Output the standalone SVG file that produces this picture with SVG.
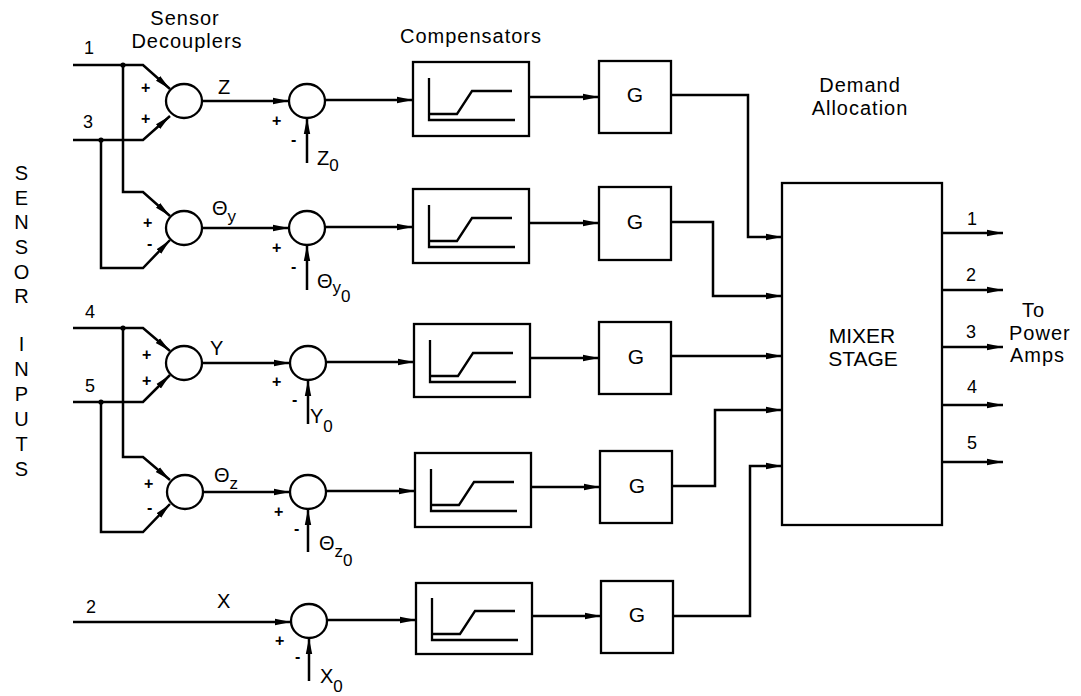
<svg xmlns="http://www.w3.org/2000/svg" width="1081" height="696" viewBox="0 0 1081 696">
<style>
text{font-family:"Liberation Sans",Arial,Helvetica,sans-serif;fill:#000}
.lbl{font-size:20px;letter-spacing:1px}
.big{font-size:21px;text-anchor:middle}
.num{font-size:18px}
.sym{font-size:20px}
.sg{font-size:16px;font-weight:bold}
.w{fill:none;stroke:#000;stroke-width:2.5;stroke-linejoin:miter}
.a{marker-end:url(#ah)}
.c{fill:#fff;stroke:#000;stroke-width:2.3}
.b{fill:#fff;stroke:#000;stroke-width:2.3}
.g{fill:none;stroke:#000;stroke-width:2.3}
</style>
<defs>
<marker id="ah" viewBox="0 0 16 8" refX="16" refY="4" markerWidth="16" markerHeight="8" markerUnits="userSpaceOnUse" orient="auto">
<path d="M0,0.8 L16,4 L0,7.2 z" fill="#000"/>
</marker>
</defs>
<rect width="1081" height="696" fill="#fff"/>

<g id="titles">
<text class="lbl" x="185" y="25" text-anchor="middle">Sensor</text>
<text class="lbl" x="187" y="48" text-anchor="middle">Decouplers</text>
<text class="lbl" x="471" y="43" text-anchor="middle">Compensators</text>
<text class="lbl" x="860" y="92" text-anchor="middle">Demand</text>
<text class="lbl" x="860" y="115" text-anchor="middle">Allocation</text>
<text class="lbl" x="1022" y="317">To</text>
<text class="lbl" x="1009" y="340">Power</text>
<text class="lbl" x="1010" y="362">Amps</text>
<text class="lbl" text-anchor="middle"><tspan x="22" y="180">S</tspan><tspan x="22" y="205">E</tspan><tspan x="22" y="229">N</tspan><tspan x="22" y="254">S</tspan><tspan x="22" y="279">O</tspan><tspan x="22" y="303">R</tspan><tspan x="22" y="351">I</tspan><tspan x="22" y="376">N</tspan><tspan x="22" y="401">P</tspan><tspan x="22" y="426">U</tspan><tspan x="22" y="451">T</tspan><tspan x="22" y="476">S</tspan></text>
</g>

<g id="connectors">
<path class="w a" d="M73,65 H143 L170,89"/>
<path class="w a" d="M73,140 H143 L170,116"/>
<path class="w a" d="M123,65 V192 H143 L170,216"/>
<path class="w a" d="M101,140 V268 H143 L170,240"/>
<path class="w a" d="M73,328 H143 L170,351"/>
<path class="w a" d="M73,402 H143 L170,375"/>
<path class="w a" d="M123,328 V457 H143 L170,480"/>
<path class="w a" d="M101,402 V532 H143 L170,504"/>
<path class="w a" d="M202,101 H289"/>
<path class="w a" d="M202,228 H289"/>
<path class="w a" d="M202,363 H290"/>
<path class="w a" d="M203,492 H290"/>
<path class="w a" d="M73,622 H291"/>
<path class="w a" d="M307,163 V118"/>
<path class="w a" d="M307,290 V245"/>
<path class="w a" d="M308,424 V380"/>
<path class="w a" d="M308,552 V509"/>
<path class="w a" d="M309,681 V638"/>
<path class="w a" d="M325,100 H413"/>
<path class="w a" d="M325,227 H413"/>
<path class="w a" d="M326,362 H414"/>
<path class="w a" d="M326,491 H415"/>
<path class="w a" d="M327,620 H416"/>
<path class="w a" d="M529,97 H599"/>
<path class="w a" d="M529,223 H599"/>
<path class="w a" d="M530,358 H599"/>
<path class="w a" d="M531,487 H600"/>
<path class="w a" d="M532,616 H601"/>
<path class="w a" d="M671,95 H748 V237 H782"/>
<path class="w a" d="M671,222 H713 V296 H782"/>
<path class="w a" d="M671,356 H782"/>
<path class="w a" d="M672,486 H715 V410 H782"/>
<path class="w a" d="M673,616 H750 V466 H782"/>
<path class="w a" d="M942,233 H1003"/>
<path class="w a" d="M942,290 H1003"/>
<path class="w a" d="M942,347 H1003"/>
<path class="w a" d="M942,405 H1003"/>
<path class="w a" d="M942,462 H1003"/>
<circle cx="123" cy="65" r="2.6" fill="#000"/>
<circle cx="101" cy="140" r="2.6" fill="#000"/>
<circle cx="123" cy="328" r="2.6" fill="#000"/>
<circle cx="101" cy="402" r="2.6" fill="#000"/>
</g>

<g id="input-labels">
<text class="num" x="84" y="54">1</text>
<text class="num" x="83" y="128">3</text>
<text class="num" x="85" y="318">4</text>
<text class="num" x="85" y="392">5</text>
<text class="num" x="86" y="613">2</text>
</g>

<g id="decoupler-z">
<ellipse class="c" cx="184" cy="101" rx="18" ry="17"/>
<text class="sg" x="141" y="93">+</text>
<text class="sg" x="141" y="124">+</text>
<text class="sym" x="218" y="94">Z</text>
</g>
<g id="decoupler-thy">
<ellipse class="c" cx="184" cy="228" rx="18" ry="17"/>
<text class="sg" x="143" y="228">+</text>
<text class="sg" x="147" y="249">-</text>
<text class="sym" x="212" y="215">Θ<tspan font-size="17" dy="7">y</tspan></text>
</g>
<g id="decoupler-y">
<ellipse class="c" cx="184" cy="363" rx="18" ry="17"/>
<text class="sg" x="142" y="360">+</text>
<text class="sg" x="142" y="386">+</text>
<text class="sym" x="210" y="355">Y</text>
</g>
<g id="decoupler-thz">
<ellipse class="c" cx="185" cy="492" rx="18" ry="17"/>
<text class="sg" x="144" y="489">+</text>
<text class="sg" x="147" y="513">-</text>
<text class="sym" x="214" y="482">Θ<tspan font-size="17" dy="7">z</tspan></text>
</g>
<g id="label-x">
<text class="sym" x="217" y="608">X</text>
</g>

<g id="sum-z">
<ellipse class="c" cx="307" cy="101" rx="18" ry="17"/>
<text class="sg" x="272" y="126">+</text>
<text class="sg" x="291" y="145">-</text>
<text class="sym" x="317" y="165">Z<tspan font-size="17" dy="6">0</tspan></text>
</g>
<g id="sum-thy">
<ellipse class="c" cx="307" cy="228" rx="18" ry="17"/>
<text class="sg" x="272" y="253">+</text>
<text class="sg" x="291" y="272">-</text>
<text class="sym" x="317" y="288">Θ<tspan font-size="17" dy="5">y</tspan><tspan font-size="17" dy="9">0</tspan></text>
</g>
<g id="sum-y">
<ellipse class="c" cx="308" cy="363" rx="18" ry="17"/>
<text class="sg" x="272" y="387">+</text>
<text class="sg" x="292" y="405">-</text>
<text class="sym" x="310" y="423">Y<tspan font-size="17" dy="9">0</tspan></text>
</g>
<g id="sum-thz">
<ellipse class="c" cx="308" cy="492" rx="18" ry="17"/>
<text class="sg" x="274" y="517">+</text>
<text class="sg" x="294" y="534">-</text>
<text class="sym" x="319" y="550">Θ<tspan font-size="17" dy="7">z</tspan><tspan font-size="17" dy="9">0</tspan></text>
</g>
<g id="sum-x">
<ellipse class="c" cx="309" cy="621" rx="18" ry="17"/>
<text class="sg" x="275" y="646">+</text>
<text class="sg" x="295" y="662">-</text>
<text class="sym" x="320" y="683">X<tspan font-size="17" dy="9">0</tspan></text>
</g>

<g id="comp-1">
<rect class="b" x="413" y="62" width="116" height="74"/>
<path class="g" d="M429,78 V120 H515 M429,114 H457 L472,91 H512"/>
</g>
<g id="comp-2">
<rect class="b" x="413" y="189" width="116" height="74"/>
<path class="g" d="M429,205 V247 H515 M429,241 H457 L472,218 H512"/>
</g>
<g id="comp-3">
<rect class="b" x="414" y="324" width="116" height="73"/>
<path class="g" d="M430,340 V382 H516 M430,376 H458 L473,353 H513"/>
</g>
<g id="comp-4">
<rect class="b" x="415" y="453" width="116" height="74"/>
<path class="g" d="M431,469 V511 H517 M431,505 H459 L474,482 H514"/>
</g>
<g id="comp-5">
<rect class="b" x="416" y="583" width="116" height="71"/>
<path class="g" d="M432,598 V640 H518 M432,634 H460 L475,611 H515"/>
</g>

<g id="gain-1">
<rect class="b" x="599" y="61" width="72" height="72"/>
<text class="big" x="635" y="102">G</text>
</g>
<g id="gain-2">
<rect class="b" x="599" y="187" width="72" height="73"/>
<text class="big" x="635" y="229">G</text>
</g>
<g id="gain-3">
<rect class="b" x="599" y="322" width="72" height="72"/>
<text class="big" x="636" y="364">G</text>
</g>
<g id="gain-4">
<rect class="b" x="600" y="451" width="72" height="72"/>
<text class="big" x="637" y="493">G</text>
</g>
<g id="gain-5">
<rect class="b" x="601" y="581" width="72" height="72"/>
<text class="big" x="637" y="622">G</text>
</g>

<g id="mixer">
<rect class="b" x="782" y="183" width="160" height="342"/>
<text class="big" x="862" y="343">MIXER</text>
<text class="big" x="863" y="366">STAGE</text>
</g>

<g id="output-labels">
<text class="num" x="967" y="225">1</text>
<text class="num" x="966" y="281">2</text>
<text class="num" x="966" y="338">3</text>
<text class="num" x="967" y="393">4</text>
<text class="num" x="967" y="449">5</text>
</g>
</svg>
